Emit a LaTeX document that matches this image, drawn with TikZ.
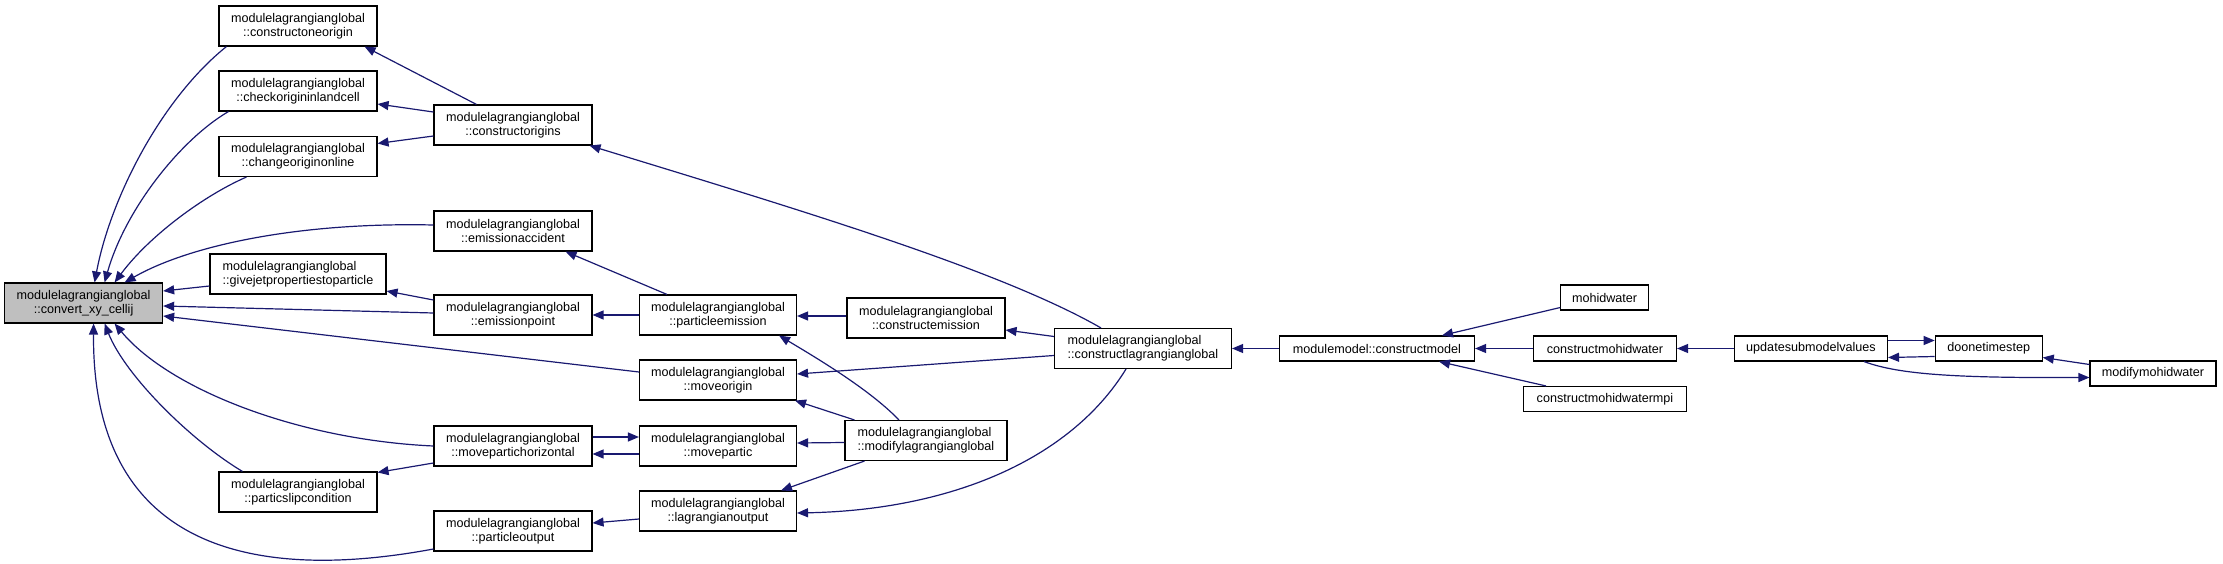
\documentclass[tikz,border=0pt]{standalone}
\usepackage{fontspec}
\setmainfont{Liberation Sans}
\usetikzlibrary{arrows.meta}
\definecolor{edgecol}{HTML}{191970}
\definecolor{nodegray}{HTML}{BFBFBF}
\begin{document}
\begin{tikzpicture}[x=1pt,y=-1pt,
  fn/.style={draw=black, line width=1.1pt, fill=white, inner sep=0pt, minimum height=40pt, align=center, font=\fontsize{12.6}{14}\selectfont, text=black},
  fnl/.style={fn, align=left},
  fn1/.style={fn, minimum height=25pt},
  call/.style={draw=edgecol, line width=1.2pt, -{Triangle[length=11pt,width=9pt]}}]
\useasboundingbox (0,0) rectangle (2223,564);

% column 0
\node[fn, fill=nodegray, minimum width=158pt] (convert) at (83.6,303) {modulelagrangianglobal\\::convert\_xy\_cellij};
% column 1
\node[fn, minimum width=158pt] (ctoneorigin) at (298,26) {modulelagrangianglobal\\::constructoneorigin};
\node[fn, minimum width=158pt] (chkorigin) at (298,91) {modulelagrangianglobal\\::checkorigininlandcell};
\node[fn, minimum width=158pt] (chgorigin) at (298,156.5) {modulelagrangianglobal\\::changeoriginonline};
\node[fnl, minimum width=176pt] (givejet) at (298,274) {modulelagrangianglobal\\::givejetpropertiestoparticle};
\node[fn, minimum width=158pt] (partslip) at (298,492) {modulelagrangianglobal\\::particslipcondition};
% column 2
\node[fn, minimum width=158pt] (ctorigins) at (513,125) {modulelagrangianglobal\\::constructorigins};
\node[fn, minimum width=158pt] (emissacc) at (513,231) {modulelagrangianglobal\\::emissionaccident};
\node[fn, minimum width=158pt] (emisspt) at (513,315) {modulelagrangianglobal\\::emissionpoint};
\node[fn, minimum width=158pt] (movehoriz) at (513,446) {modulelagrangianglobal\\::movepartichorizontal};
\node[fn, minimum width=158pt] (partout) at (513,531) {modulelagrangianglobal\\::particleoutput};
% column 3
\node[fn, minimum width=157pt] (partemiss) at (718,315) {modulelagrangianglobal\\::particleemission};
\node[fn, minimum width=157pt] (moveorigin) at (718,380) {modulelagrangianglobal\\::moveorigin};
\node[fn, minimum width=157pt] (movepartic) at (718,446) {modulelagrangianglobal\\::movepartic};
\node[fn, minimum width=157pt] (lagout) at (718,511) {modulelagrangianglobal\\::lagrangianoutput};
% column 4
\node[fn, minimum width=158pt] (ctemission) at (926,318) {modulelagrangianglobal\\::constructemission};
\node[fnl, minimum width=162pt] (modifylag) at (926,440.5) {modulelagrangianglobal\\::modifylagrangianglobal};
% column 5
\node[fnl, minimum width=177pt] (ctlag) at (1143,348.5) {modulelagrangianglobal\\::constructlagrangianglobal};
% right part
\node[fn1, minimum width=195pt] (ctmodel) at (1377,348.5) {modulemodel::constructmodel};
\node[fn1, minimum width=87.5pt] (mohid) at (1604.6,297.5) {mohidwater};
\node[fn1, minimum width=143pt] (ctmohid) at (1605,348.5) {constructmohidwater};
\node[fn1, minimum width=163pt] (ctmohidmpi) at (1605,399) {constructmohidwatermpi};
\node[fn1, minimum width=153pt] (updsub) at (1811,348.5) {updatesubmodelvalues};
\node[fn1, minimum width=107pt] (doone) at (1988.7,348.5) {doonetimestep};
\node[fn1, minimum width=126pt] (modmohid) at (2153,373.5) {modifymohidwater};

% edges into convert
\draw[call] ([xshift=8pt]ctoneorigin.south west) .. controls (160,100) and (110,200) .. ([xshift=11pt]convert.north);
\draw[call] ([xshift=10pt]chkorigin.south west) .. controls (180,140) and (125,210) .. ([xshift=21pt]convert.north);
\draw[call] ([xshift=28pt]chgorigin.south west) .. controls (205,195) and (150,235) .. ([xshift=31pt]convert.north);
\draw[call] ([yshift=6pt]emissacc.west) .. controls (300,222) and (190,245) .. ([xshift=41pt]convert.north);
\draw[call] ([yshift=-12pt]givejet.west) -- ([yshift=12pt]convert.east);
\draw[call] ([yshift=2pt]emisspt.west) -- ([yshift=-3pt]convert.east);
\draw[call] ([yshift=8pt]moveorigin.west) -- ([yshift=-13pt]convert.east);
\draw[call] (movehoriz.west) .. controls (300,440) and (170,390) .. ([xshift=31pt]convert.south);
\draw[call] ([xshift=24pt]partslip.north west) .. controls (190,440) and (125,375) .. ([xshift=21pt]convert.south);
\draw[call] ([yshift=-18pt]partout.west) .. controls (240,585) and (92,540) .. ([xshift=10pt]convert.south);

% column 1 <- column 2
\draw[call] ([yshift=-17pt]movehoriz.west) -- ([yshift=-1pt]partslip.north east);
\draw[call] ([yshift=15pt]emisspt.west) -- ([yshift=-17pt]givejet.east);
\draw[call] ([yshift=13pt]ctorigins.west) -- ([yshift=-13pt]chkorigin.east);
\draw[call] ([yshift=-11pt]ctorigins.west) -- ([yshift=13pt]chgorigin.east);
\draw[call] ([xshift=-36.5pt]ctorigins.north) -- ([xshift=-13pt]ctoneorigin.south east);

% column 2 <- column 3
\draw[call] (partemiss.west) -- (emisspt.east);
\draw[call] ([yshift=9pt]movehoriz.east) -- ([yshift=9pt]movepartic.west);
\draw[call] ([yshift=-8pt]movepartic.west) -- ([yshift=-8pt]movehoriz.east);
\draw[call] ([yshift=-8pt]lagout.west) -- ([yshift=8pt]partout.east);
\draw[call] ([xshift=-51pt]partemiss.north) -- ([xshift=-27pt]emissacc.south east);
\draw[call] ([xshift=-42pt]ctlag.north) .. controls (1000,270) and (800,210) .. ([xshift=-3pt]ctorigins.south east);

% column 3 <- column 4/5
\draw[call] ([yshift=2pt]ctemission.west) -- ([yshift=-1pt]partemiss.east);
\draw[call] ([yshift=12pt]ctlag.west) -- ([yshift=-12pt]ctemission.east);
\draw[call] ([yshift=-7pt]ctlag.west) -- ([yshift=6pt]moveorigin.east);
\draw[call] ([xshift=-27pt]modifylag.north) .. controls (870,390) and (820,360) .. ([xshift=-18pt]partemiss.south east);
\draw[call] ([xshift=10pt]modifylag.north west) -- ([xshift=-2pt]moveorigin.south east);
\draw[call] ([yshift=-2pt]modifylag.west) -- ([yshift=3pt]movepartic.east);
\draw[call] ([xshift=20pt]modifylag.south west) -- ([xshift=-16pt]lagout.north east);
\draw[call] ([xshift=-17pt]ctlag.south) .. controls (1070,460) and (950,510) .. ([yshift=-2pt]lagout.east);

% right part
\draw[call] (ctmodel.west) -- (ctlag.east);
\draw[call] ([yshift=-10pt]mohid.west) -- ([xshift=65pt]ctmodel.north);
\draw[call] (ctmohid.west) -- (ctmodel.east);
\draw[call] ([xshift=23pt]ctmohidmpi.north west) -- ([xshift=62pt]ctmodel.south);
\draw[call] (updsub.west) -- (ctmohid.east);
\draw[call] ([yshift=8pt]updsub.east) -- ([yshift=8pt]doone.west);
\draw[call] ([yshift=-8pt]doone.west) -- ([yshift=-9pt]updsub.east);
\draw[call] ([yshift=9pt]modmohid.west) -- ([yshift=-9pt]doone.east);
\draw[call] ([xshift=53pt]updsub.south) .. controls (1900,375) and (1960,378) .. ([yshift=-4pt]modmohid.west);
\end{tikzpicture}
\end{document}
